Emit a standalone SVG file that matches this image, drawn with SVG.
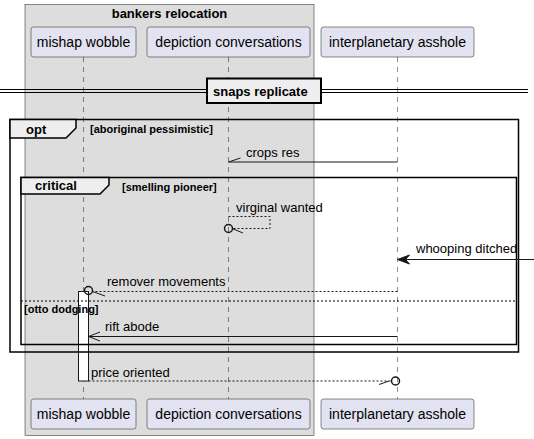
<svg xmlns="http://www.w3.org/2000/svg" width="534" height="439" viewBox="0 0 534 439">
<style>
text{font-family:"Liberation Sans",Arial,sans-serif;fill:#000000}
.pn{font-size:14px;text-anchor:middle}
.msg{font-size:13px}
.fl{font-size:13px;font-weight:bold}
.gd{font-size:11px;font-weight:bold}
.part{fill:#E2E2F0;stroke:#181818;stroke-width:0.5}
.life{stroke:#181818;stroke-width:0.5;stroke-dasharray:5,5;fill:none}
.ln{stroke:#181818;stroke-width:1;fill:none}
.dash{stroke:#181818;stroke-width:1;fill:none;stroke-dasharray:2,2}
.frame{fill:none;stroke:#000000;stroke-width:1.5}
.tab{fill:#EEEEEE;stroke:#000000;stroke-width:1.5}
</style>
<g id="box-bankers">
<rect x="25" y="4.5" width="289" height="431" fill="#DDDDDD" stroke="#181818" stroke-width="0.5"/>
<text x="169.5" y="18" class="fl" text-anchor="middle">bankers relocation</text>
</g>
<g id="lifelines">
<line class="life" x1="83.5" y1="57" x2="83.5" y2="399"/>
<line class="life" x1="228.5" y1="57" x2="228.5" y2="399"/>
<line class="life" x1="397.5" y1="57" x2="397.5" y2="399"/>
</g>
<g id="p-mishap">
<rect class="part" x="31" y="27" width="105" height="30" rx="2.5"/>
<text class="pn" x="83.5" y="47">mishap wobble</text>
<rect class="part" x="31" y="399" width="105" height="30" rx="2.5"/>
<text class="pn" x="83.5" y="419">mishap wobble</text>
</g>
<g id="p-depiction">
<rect class="part" x="147" y="27" width="163" height="30" rx="2.5"/>
<text class="pn" x="228.5" y="47">depiction conversations</text>
<rect class="part" x="147" y="399" width="163" height="30" rx="2.5"/>
<text class="pn" x="228.5" y="419">depiction conversations</text>
</g>
<g id="p-interplanetary">
<rect class="part" x="321" y="27" width="153" height="30" rx="2.5"/>
<text class="pn" x="397.5" y="47">interplanetary asshole</text>
<rect class="part" x="321" y="399" width="153" height="30" rx="2.5"/>
<text class="pn" x="397.5" y="419">interplanetary asshole</text>
</g>
<g id="activation">
<rect x="78.5" y="291.5" width="10" height="89.5" fill="#FFFFFF" stroke="#181818" stroke-width="1"/>
</g>
<g id="divider">
<line x1="0" y1="89.5" x2="528" y2="89.5" stroke="#000" stroke-width="1"/>
<line x1="0" y1="92.5" x2="528" y2="92.5" stroke="#000" stroke-width="1"/>
<rect x="207" y="78.5" width="114" height="24.5" fill="#EEEEEE" stroke="#000" stroke-width="2"/>
<text class="fl" x="213" y="95.5">snaps replicate</text>
</g>
<g id="frame-opt">
<rect class="frame" x="10" y="119.5" width="508.5" height="232.5"/>
<path class="tab" d="M10,119.5 L76,119.5 L76,128 L66,138 L10,138 Z"/>
<text class="fl" x="26" y="134">opt</text>
<text class="gd" x="90" y="133">[aboriginal pessimistic]</text>
</g>
<g id="frame-critical">
<rect class="frame" x="21" y="177.5" width="495.5" height="167"/>
<path class="tab" d="M21,177.5 L109,177.5 L109,185 L100,194 L21,194 Z"/>
<text class="fl" x="35" y="190">critical</text>
<text class="gd" x="122" y="191">[smelling pioneer]</text>
<line x1="21" y1="301" x2="516.5" y2="301" stroke="#000" stroke-width="1" stroke-dasharray="2,2"/>
<text class="gd" x="24" y="313">[otto dodging]</text>
</g>
<g id="connectors">
<line class="ln" x1="397.5" y1="162" x2="228.5" y2="162"/>
<line class="ln" x1="228.5" y1="162" x2="240.5" y2="158"/>
<text class="msg" x="246" y="157">crops res</text>

<polyline class="dash" points="228.5,216.5 270,216.5 270,228.5 232.5,228.5"/>
<circle cx="228.5" cy="228.5" r="4" fill="none" stroke="#181818" stroke-width="1.5"/>
<line class="ln" x1="232" y1="228.5" x2="243" y2="233"/>
<text class="msg" x="236" y="212">virginal wanted</text>

<line class="ln" x1="534" y1="259.5" x2="400" y2="259.5"/>
<polygon points="397.5,259.5 409.5,255 405.5,259.5 409.5,264" fill="#181818" stroke="#181818" stroke-width="1"/>
<text class="msg" x="416" y="253">whooping ditched</text>

<line class="dash" x1="397.5" y1="291.5" x2="92.5" y2="291.5"/>
<circle cx="88.5" cy="290.5" r="4" fill="none" stroke="#181818" stroke-width="1.5"/>
<line class="ln" x1="92.5" y1="291.5" x2="105" y2="296"/>
<text class="msg" x="107" y="286">remover movements</text>

<line class="ln" x1="397.5" y1="336.5" x2="88.5" y2="336.5"/>
<polyline class="ln" points="100,332 88.5,336.5 100,341"/>
<text class="msg" x="105" y="331">rift abode</text>

<line class="dash" x1="88.5" y1="381" x2="391.5" y2="381"/>
<circle cx="395.5" cy="381" r="4" fill="none" stroke="#181818" stroke-width="1.5"/>
<line class="ln" x1="389" y1="381" x2="379" y2="384.5"/>
<text class="msg" x="91" y="377">price oriented</text>
</g>
</svg>
